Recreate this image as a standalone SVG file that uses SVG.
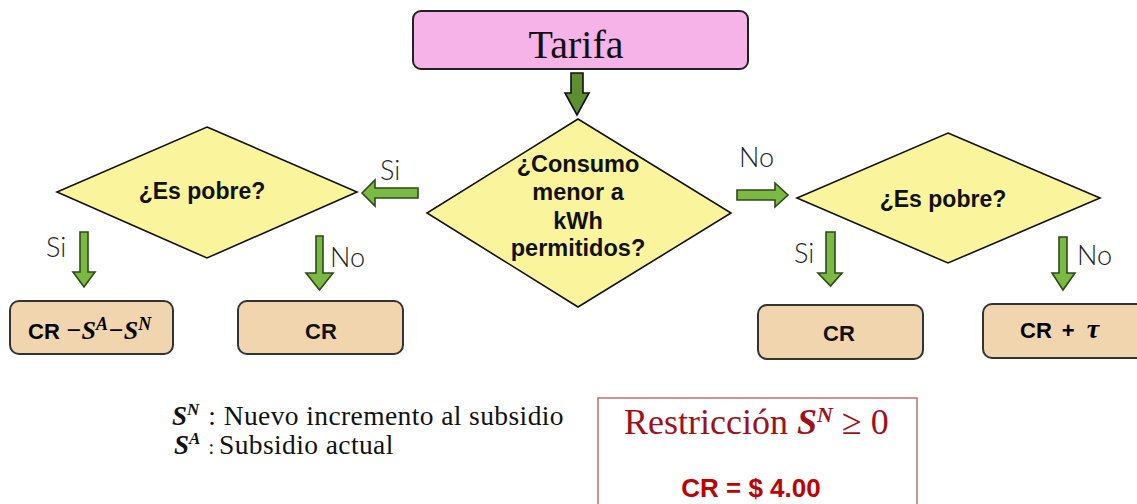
<svg xmlns="http://www.w3.org/2000/svg" width="1137" height="504" viewBox="0 0 1137 504">
<style>
.dia{fill:#FAF59C;stroke:#111;stroke-width:1.6}
.res{fill:#F1D5AE;stroke:#333;stroke-width:2}
.arr{fill:#79B944;stroke:#2E4A17;stroke-width:1.6;stroke-linejoin:miter}
.arr2{fill:#5D8F30;stroke:#111;stroke-width:1.6}
.q{font-family:"Liberation Sans",Arial,sans-serif;font-weight:bold;fill:#111;text-anchor:middle}
.lbl{font-family:Lato,"Noto Sans",sans-serif;font-weight:300;font-size:27px;fill:#222}
.m{font-family:"Liberation Serif","DejaVu Serif",serif;font-weight:bold;font-style:italic}
.ser{font-family:"Liberation Serif","DejaVu Serif",serif}
</style>
<rect width="1137" height="504" fill="#fff"/>
<g id="tarifa">
<rect x="413" y="11" width="335" height="58" rx="8" fill="#F5B3E8" stroke="#222" stroke-width="2"/>
<text x="576" y="58" class="ser" font-size="40" text-anchor="middle" fill="#111">Tarifa</text>
</g>
<g id="consumo">
<polygon class="dia" points="578,119 731,213 578,307 427,213"/>
<text class="q" font-size="23.5" x="578" y="172">¿Consumo</text>
<text class="q" font-size="23.5" x="578" y="200">menor a</text>
<text class="q" font-size="23.5" x="578" y="229">kWh</text>
<text class="q" font-size="23.5" x="578" y="256">permitidos?</text>
</g>
<g id="pobre-izq">
<polygon class="dia" points="207,127 357,192 207,258 57,192"/>
<text class="q" font-size="23" x="202" y="199">¿Es pobre?</text>
</g>
<g id="pobre-der">
<polygon class="dia" points="948,133 1100,198 948,263 797,198"/>
<text class="q" font-size="23" x="943" y="207">¿Es pobre?</text>
</g>
<g id="res1">
<rect class="res" x="10" y="301" width="163" height="53" rx="9"/>
<text x="28" y="339" font-size="22"><tspan font-family="Liberation Sans,Arial,sans-serif" font-weight="bold">CR</tspan><tspan class="m" dx="6" font-size="26">−S</tspan><tspan class="m" font-size="18" dy="-9">A</tspan><tspan class="m" dy="9" font-size="26">−S</tspan><tspan class="m" font-size="18" dy="-9">N</tspan></text>
</g>
<g id="res2">
<rect class="res" x="238" y="301" width="165" height="53" rx="9"/>
<text class="q" font-size="22" x="321" y="339">CR</text>
</g>
<g id="res3">
<rect class="res" x="758" y="305" width="165" height="54" rx="9"/>
<text class="q" font-size="22" x="839" y="341">CR</text>
</g>
<g id="res4">
<rect class="res" x="983" y="304" width="170" height="54" rx="9"/>
<text x="1020" y="338" font-size="22" font-family="Liberation Sans,Arial,sans-serif" font-weight="bold">CR<tspan dx="10">+</tspan><tspan class="m" font-size="28" dx="12">τ</tspan></text>
</g>
<g id="connectors">
<polygon class="arr2" points="571,73 583,73 583,93 589,93 577,115 565,93 571,93"/>
<polygon class="arr" points="362,193 375,180 375,188 418,188 418,198 375,198 375,206"/>
<polygon class="arr" points="737,190 775,190 775,183 788,195 775,207 775,200 737,200"/>
<polygon class="arr" points="80,232 88,232 88,272 95,272 84,287 73,272 80,272"/>
<polygon class="arr" points="316,236 323,236 323,273 333,273 319.5,290 306,273 316,273"/>
<polygon class="arr" points="826,232 835,232 835,273 842,273 830.5,286 818,273 826,273"/>
<polygon class="arr" points="1059,237 1067,237 1067,273 1075,273 1063,290 1052,273 1059,273"/>
<text class="lbl" x="380" y="180">Si</text>
<text class="lbl" x="739" y="167">No</text>
<text class="lbl" x="46" y="257">Si</text>
<text class="lbl" x="330" y="267">No</text>
<text class="lbl" x="794" y="263">Si</text>
<text class="lbl" x="1077" y="265">No</text>
</g>
<g id="leyenda">
<text x="172" y="425" font-size="27" fill="#111"><tspan class="m">S</tspan><tspan class="m" font-size="17" dy="-10">N</tspan><tspan class="ser" dy="10" dx="9" font-size="27.5" letter-spacing="0.4">: Nuevo incremento al subsidio</tspan></text>
<text x="174" y="454" font-size="27" fill="#111"><tspan class="m">S</tspan><tspan class="m" font-size="17" dy="-10">A</tspan><tspan class="ser" dy="10" dx="8" font-size="20">:</tspan><tspan class="ser" font-size="27.5" dx="5" letter-spacing="0.4">Subsidio actual</tspan></text>
</g>
<g id="restriccion">
<rect x="598" y="398" width="319" height="120" fill="#fff" stroke="#C07070" stroke-width="1.5"/>
<text x="624" y="434" font-size="36" fill="#A0101A"><tspan class="ser">Restricción </tspan><tspan class="m">S</tspan><tspan class="m" font-size="22" dy="-12">N</tspan><tspan class="ser" dy="12"> ≥ 0</tspan></text>
<text class="q" x="751" y="497" font-size="26" style="fill:#C00000">CR = $ 4.00</text>
</g>
</svg>
